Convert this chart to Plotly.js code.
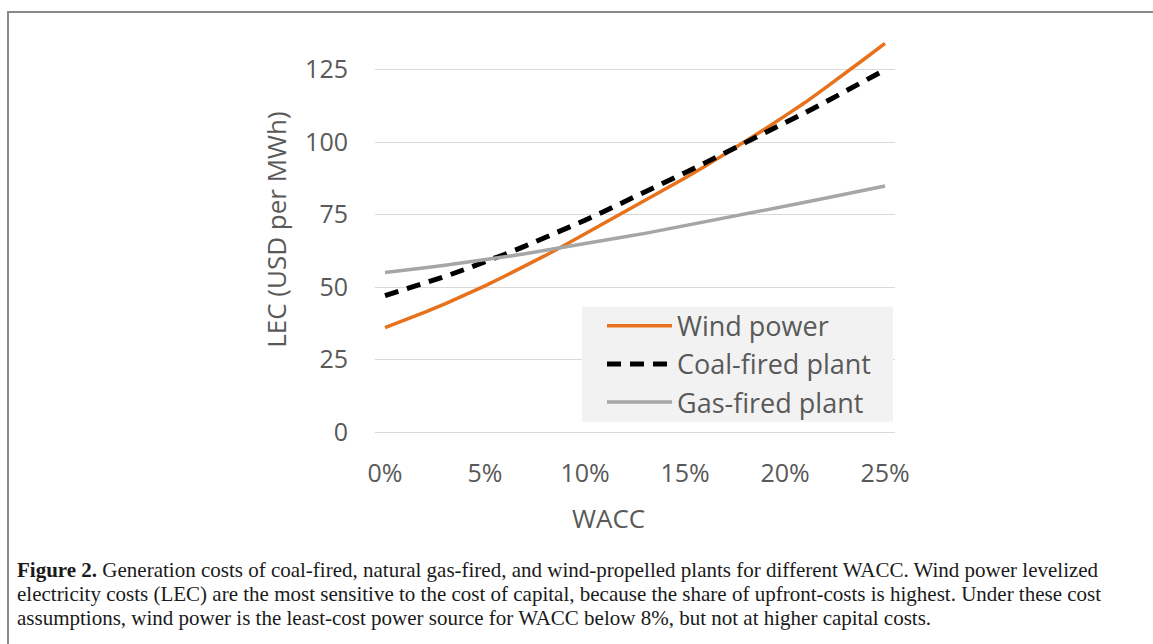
<!DOCTYPE html>
<html>
<head>
<meta charset="utf-8">
<script src="https://cdn.plot.ly/plotly-3.0.1.min.js"></script>
<style>
html,body{margin:0;padding:0;background:#fff;overflow:hidden;}
#frame{position:absolute;left:7px;top:11px;width:1200px;height:700px;border:2px solid #8a8a8a;box-sizing:border-box;pointer-events:none;z-index:2;}
#chart{position:absolute;left:0;top:0;width:1153px;height:644px;}
</style>
</head>
<body>
<div id="chart"></div>
<div id="frame"></div>
<script>
// WACC in percent (category positions)
const wacc = [0,1,2,3,4,5,6,7,8,9,10,11,12,13,14,15,16,17,18,19,20,21,22,23,24,25];
const tickVals = [0,5,10,15,20,25];
const tickLabels = ["0%","5%","10%","15%","20%","25%"];
// LEC, USD per MWh
const windPower = [36.0,38.6,41.3,44.2,47.2,50.4,53.8,57.2,60.8,64.5,68.3,72.1,75.9,79.7,83.6,87.6,91.6,95.8,100.1,104.5,109.0,113.6,118.6,123.6,128.8,134.0];
const coalPlant = [47.0,49.1,51.3,53.6,56.1,58.6,61.3,64.1,67.0,70.0,73.0,76.2,79.4,82.7,86.0,89.4,92.8,96.2,99.6,103.1,106.6,110.1,113.7,117.4,121.1,124.9];
const gasPlant  = [55.0,55.7,56.6,57.5,58.4,59.4,60.4,61.5,62.6,63.7,64.9,66.1,67.3,68.5,69.8,71.1,72.4,73.7,75.1,76.4,77.8,79.2,80.6,81.9,83.4,84.8];
const seriesNames = ["Wind power","Coal-fired plant","Gas-fired plant"];
const captionLines = [
  "<b>Figure 2.</b> Generation costs of coal-fired, natural gas-fired, and wind-propelled plants for different WACC. Wind power levelized",
  "electricity costs (LEC) are the most sensitive to the cost of capital, because the share of upfront-costs is highest. Under these cost",
  "assumptions, wind power is the least-cost power source for WACC below 8%, but not at higher capital costs."
];

const W = 1153, H = 644;
const L = 375, R = 895, T = 26, B = 432.3;
const px2x = x => (x - L) / (R - L);
const px2y = y => (B - y) / (B - T);

const sans = "Open Sans, Segoe UI, sans-serif";
const grey = "#595959";

const traces = [
  {x: wacc, y: windPower, name: seriesNames[0], mode: "lines", line: {color: "#e8721c", width: 3.5}},
  {x: wacc, y: coalPlant, name: seriesNames[1], mode: "lines", line: {color: "#000000", width: 5, dash: "14px,9px"}},
  {x: wacc, y: gasPlant,  name: seriesNames[2], mode: "lines", line: {color: "#a6a6a6", width: 3.5}}
];

const annotations = [
  {text: "WACC", xref: "paper", yref: "paper", x: px2x(608), y: px2y(518), xanchor: "center", yanchor: "middle", showarrow: false, font: {family: sans, size: 26, color: grey}},
  {text: "LEC (USD per MWh)", xref: "paper", yref: "paper", x: px2x(276), y: px2y(230), xanchor: "center", yanchor: "middle", textangle: -90, showarrow: false, font: {family: sans, size: 26, color: grey}}
];
captionLines.forEach((t, i) => {
  annotations.push({text: t, xref: "paper", yref: "paper", x: px2x(15), y: px2y(570 + 24 * i), xanchor: "left", yanchor: "middle", align: "left", showarrow: false, font: {family: "Liberation Serif, Times New Roman, serif", size: 21, color: "#1a1a1a"}});
});

const shapes = [
  {type: "rect", xref: "paper", yref: "paper", x0: px2x(582), x1: px2x(893), y0: px2y(422), y1: px2y(307), fillcolor: "#f2f2f2", line: {width: 0}, layer: "above"}
];

const layout = {
  width: W, height: H,
  margin: {l: L, r: W - R, t: T, b: H - B, pad: 0},
  paper_bgcolor: "#ffffff", plot_bgcolor: "#ffffff",
  showlegend: true,
  legend: {x: px2x(602), y: px2y(302), xanchor: "left", yanchor: "top", bgcolor: "rgba(0,0,0,0)", borderwidth: 0,
           font: {family: sans, size: 27, color: grey}, tracegroupgap: 0, itemwidth: 65},
  xaxis: {range: [-0.5, 25.5], tickmode: "array", tickvals: tickVals, ticktext: tickLabels,
          showgrid: false, zeroline: false, showline: false, ticks: "",
          tickfont: {family: sans, size: 25, color: grey}, ticklabelstandoff: 24},
  yaxis: {range: [0, 140], tickmode: "array", tickvals: [0,25,50,75,100,125],
          showgrid: true, gridcolor: "#d9d9d9", gridwidth: 1,
          zeroline: true, zerolinecolor: "#d9d9d9", zerolinewidth: 1, showline: false, ticks: "",
          tickfont: {family: sans, size: 25, color: grey}, ticklabelstandoff: 26},
  shapes: shapes,
  annotations: annotations
};

Plotly.newPlot("chart", traces, layout, {displayModeBar: false, staticPlot: true});
</script>
</body>
</html>
